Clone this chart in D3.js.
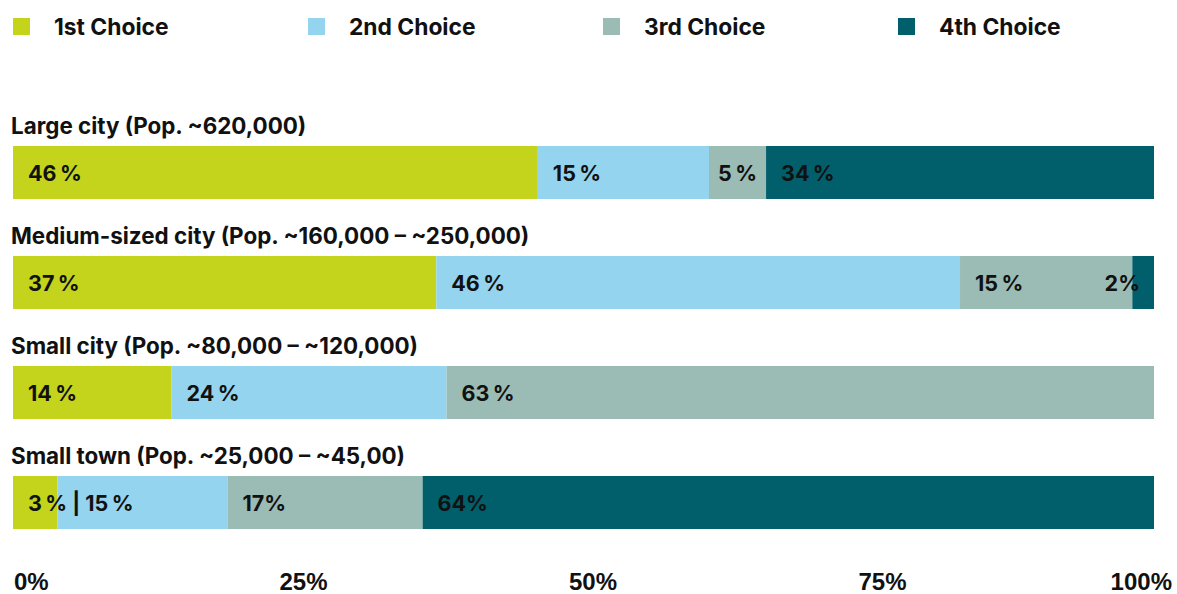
<!DOCTYPE html>
<html><head><meta charset="utf-8">
<script src="https://cdn.jsdelivr.net/npm/d3@7/dist/d3.min.js"></script>
<style>body{margin:0;background:#fff;}svg{display:block;}</style>
</head><body>
<svg id="c" width="1177" height="594"></svg>
<script>
const seriesNames = ["1st Choice","2nd Choice","3rd Choice","4th Choice"];
const colors = ["#c4d41c","#94d4ee","#9bbbb5","#005f6b"];
const categories = [
  "Large city (Pop. ~620,000)",
  "Medium-sized city (Pop. ~160,000 \u2013 ~250,000)",
  "Small city (Pop. ~80,000 \u2013 ~120,000)",
  "Small town (Pop. ~25,000 \u2013 ~45,00)"
];
const first  = [46, 37.1, 13.9, 3.9];
const second = [15, 45.9, 24.1, 14.9];
const third  = [5, 15.1, 62.0, 17.1];
const fourth = [34, 1.9, 0, 64.1];
const labels = [
  ["46\u2009%","15\u2009%","5\u2009%","34\u2009%"],
  ["37\u2009%","46\u2009%","15\u2009%","2%"],
  ["14\u2009%","24\u2009%","63\u2009%",""],
  ["3\u2009% | 15\u2009%","","17%","64%"]
];
const tickValues = [0,25,50,75,100];
const tickLabels = ["0%","25%","50%","75%","100%"];

const svg = d3.select("#c");
const font = "Inter, 'Noto Sans', sans-serif";
const x = d3.scaleLinear().domain([0,100]).range([13,1154]);
const y = d3.scaleBand().domain(categories).range([91,531]).paddingInner(0).paddingOuter(0);
const barTop = 55, barH = 53;

// legend
const lx = d3.scalePoint().domain(seriesNames).range([13, 898]);
const lg = svg.append("g");
seriesNames.forEach((s,i)=>{
  lg.append("rect").attr("x",lx(s)).attr("y",18).attr("width",17).attr("height",17).attr("fill",colors[i]);
  lg.append("text").attr("x",lx(s)+41).attr("y",35).text(s)
    .attr("font-family",font).attr("font-weight",700).attr("font-size",22.8).attr("fill","#111");
});

const rows = categories.map((c,i)=>({cat:c, vals:[first[i],second[i],third[i],fourth[i]], labs:labels[i]}));
rows.forEach(r=>{
  const y0 = y(r.cat);
  svg.append("text").attr("x",11).attr("y",y0+42.5).text(r.cat)
    .attr("font-family",font).attr("font-weight",700).attr("font-size",22.4).attr("fill","#111");
  let acc = 0;
  const segs = r.vals.map((v,j)=>{const s={x0:acc,x1:acc+v,j}; acc+=v; return s;});
  svg.append("g").selectAll("rect").data(segs.filter(s=>s.x1>s.x0)).join("rect")
    .attr("x",d=>x(d.x0)).attr("y",y0+barTop).attr("width",d=>x(d.x1)-x(d.x0)).attr("height",barH)
    .attr("fill",d=>colors[d.j]);
  segs.forEach(s=>{
    const t = r.labs[s.j];
    if(!t) return;
    const el = svg.append("text").text(t).attr("y",y0+barTop+35)
      .attr("font-family",font).attr("font-weight",700).attr("font-size",21.5).attr("fill","#111");
    const w = el.node().getComputedTextLength();
    const sx = x(s.x0), ex = x(s.x1), sw = ex-sx;
    let tx;
    if (sw >= w+30 || s.j===0) tx = sx+15;
    else if (sw >= w) tx = sx+(sw-w)/2;
    else tx = ex-14-w;
    el.attr("x",tx);
  });
});

// axis
const ax = d3.scaleLinear().domain([0,100]).range([14,1172]);
svg.append("g").selectAll("text").data(tickValues).join("text")
  .attr("x",d=>ax(d)).attr("y",590)
  .attr("text-anchor",(d,i)=> i===0?"start":(i===tickValues.length-1?"end":"middle"))
  .text((d,i)=>tickLabels[i])
  .attr("font-family","'Liberation Sans', Arial, sans-serif").attr("font-weight",700).attr("font-size",24).attr("fill","#111");
</script>
</body></html>
